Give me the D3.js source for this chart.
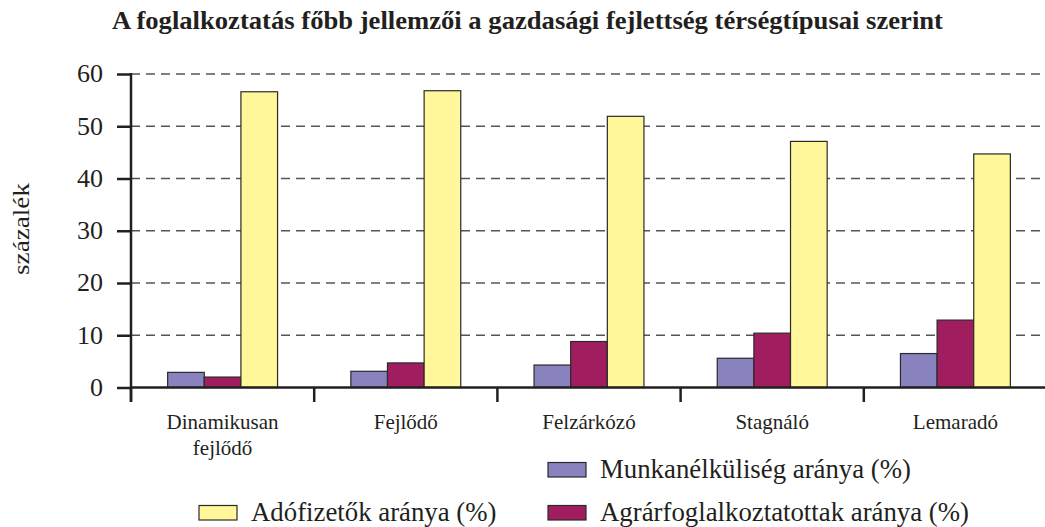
<!DOCTYPE html>
<html><head><meta charset="utf-8">
<script src="https://cdn.jsdelivr.net/npm/d3@7"></script>
<style>
body{margin:0;background:#fff;}
svg{display:block;}
</style></head>
<body><svg id="c" width="1045" height="527"></svg>
<script>
const title = "A foglalkoztatás főbb jellemzői a gazdasági fejlettség térségtípusai szerint";
const yTitle = "százalék";
const categories = [["Dinamikusan","fejlődő"],["Fejlődő"],["Felzárkózó"],["Stagnáló"],["Lemaradó"]];
const seriesNames = ["Munkanélküliség aránya (%)","Agrárfoglalkoztatottak aránya (%)","Adófizetők aránya (%)"];
const unemployment = [2.9, 3.1, 4.3, 5.6, 6.5];
const agrarian = [2.0, 4.7, 8.8, 10.4, 12.9];
const taxpayers = [56.6, 56.8, 51.9, 47.1, 44.7];
const yTicks = [0,10,20,30,40,50,60];
const colors = ["#8882be","#a01e5f","#fff799"];

const FONT = "'Liberation Serif', 'Times New Roman', Times, serif";
const series = [unemployment, agrarian, taxpayers];
const svg = d3.select("#c");
const X0 = 131, X1 = 1047, Y0 = 387.5, Y1 = 74;

const x = d3.scaleBand().domain(d3.range(categories.length)).range([X0, X1]).padding(0);
const bw = x.bandwidth();
const xs = d3.scaleBand().domain(d3.range(series.length)).range([bw/5, bw*4/5]).padding(0);
const y = d3.scaleLinear().domain([0,60]).range([Y0, Y1]);

function txt(sel, size, weight){
  return sel.attr("font-family", FONT).attr("font-size", size).attr("font-weight", weight||"normal").attr("fill","#231f20");
}

// title
txt(svg.append("text").attr("x", 527.5).attr("y", 29).attr("text-anchor","middle")
  .attr("textLength", 831).attr("lengthAdjust","spacingAndGlyphs"), 25, "bold").text(title);

// grid
svg.append("g").selectAll("line").data(yTicks.filter(d=>d>0)).join("line")
  .attr("x1", X0).attr("x2", 1045).attr("y1", d=>y(d)).attr("y2", d=>y(d))
  .attr("stroke","#555").attr("stroke-width",1.5).attr("stroke-dasharray","9,6");

// bars
series.forEach((vals, si) => {
  svg.append("g").selectAll("rect").data(vals).join("rect")
    .attr("x", (d,i)=> x(i) + xs(si))
    .attr("width", xs.bandwidth())
    .attr("y", d=>y(d))
    .attr("height", d=>Y0 - y(d))
    .attr("fill", colors[si]).attr("stroke","#2a2a2a").attr("stroke-width",1.2);
});

// y axis
const yAxis = d3.axisLeft(y).tickValues(yTicks).tickSize(14).tickPadding(14).tickFormat(d3.format("d"));
const gy = svg.append("g").attr("transform",`translate(${X0},0)`).call(yAxis);
gy.attr("font-family", FONT).attr("font-size", 26);
gy.select(".domain").remove();
gy.selectAll(".tick line").attr("stroke","#231f20").attr("stroke-width",2.5);
gy.selectAll(".tick text").attr("fill","#231f20").attr("dy","0.3em");
svg.append("line").attr("x1",X0).attr("x2",X0).attr("y1",Y1-1).attr("y2",402)
  .attr("stroke","#231f20").attr("stroke-width",2.5);

// x axis
svg.append("line").attr("x1",X0).attr("x2",1045).attr("y1",Y0).attr("y2",Y0)
  .attr("stroke","#231f20").attr("stroke-width",2.5);
const bounds = d3.range(categories.length).map(i=>x(i));
svg.append("g").selectAll("line").data(bounds).join("line")
  .attr("x1",d=>d).attr("x2",d=>d).attr("y1",Y0).attr("y2",402)
  .attr("stroke","#231f20").attr("stroke-width",2.5);

const cl = txt(svg.append("g").selectAll("text").data(categories).join("text")
  .attr("x",(d,i)=>x(i)+bw/2).attr("y",428.5).attr("text-anchor","middle"), 21);
cl.selectAll("tspan").data(d=>d).join("tspan")
  .attr("x",function(){return this.parentNode.getAttribute("x");})
  .attr("dy",(d,j)=> j===0 ? 0 : 26).text(d=>d);

// y title
txt(svg.append("text").attr("transform","translate(28.5,229) rotate(-90)").attr("text-anchor","middle")
  .attr("textLength", 92).attr("lengthAdjust","spacingAndGlyphs"), 24).text(yTitle);

// legend
const legend = [
  {i:0, bx:548, by:477.5},
  {i:1, bx:548, by:520.5},
  {i:2, bx:199, by:520.5}
];
const lg = svg.append("g").selectAll("g").data(legend).join("g")
  .attr("transform",d=>`translate(${d.bx},${d.by})`);
lg.append("rect").attr("x",0).attr("y",-15).attr("width",38).attr("height",14.5).attr("fill",d=>colors[d.i])
  .attr("stroke","#2a2a2a").attr("stroke-width",1.2);
txt(lg.append("text").attr("x",52).attr("y",0), 26.8).text(d=>seriesNames[d.i]);
</script></body></html>
